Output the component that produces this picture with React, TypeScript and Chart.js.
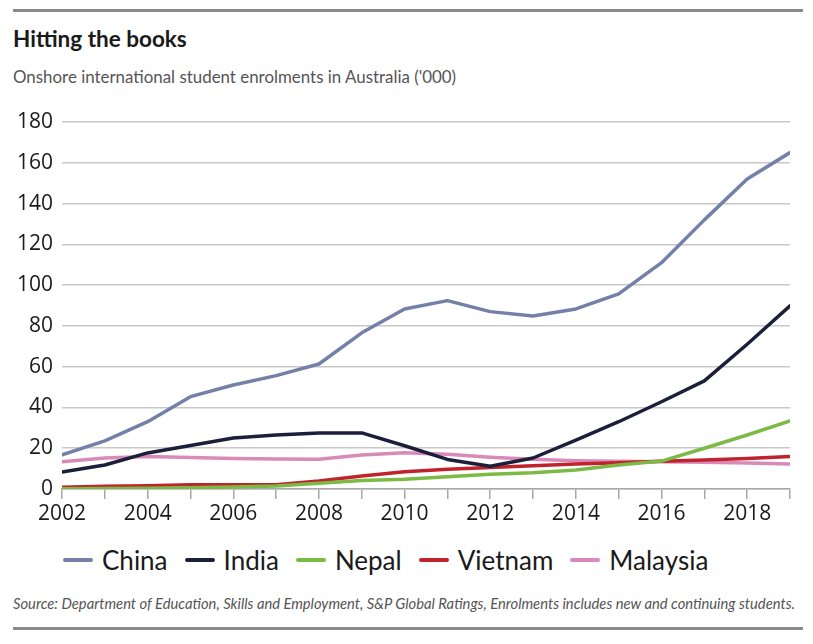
import React, { useEffect, useRef } from "react";
import { Chart, registerables } from "chart.js";

Chart.register(...registerables);

const years = [2002, 2003, 2004, 2005, 2006, 2007, 2008, 2009, 2010, 2011, 2012, 2013, 2014, 2015, 2016, 2017, 2018, 2019];
const china = [16.7, 23.6, 33, 45.3, 51, 55.6, 61.3, 76.6, 88.3, 92.4, 87, 84.9, 88.3, 95.7, 111, 132, 152, 165];
const india = [8.3, 11.8, 17.7, 21.3, 25, 26.5, 27.5, 27.5, 21.2, 14.5, 11.2, 15.2, 24, 33, 42.8, 53, 71, 89.8];
const nepal = [0.1, 0.3, 0.4, 0.6, 1, 1.5, 2.8, 4.2, 4.8, 6, 7.2, 8, 9.3, 11.8, 13.7, 20, 26.5, 33.4];
const vietnam = [0.8, 1.3, 1.6, 2.1, 2.1, 2.1, 3.9, 6.4, 8.5, 9.7, 10.6, 11.4, 12.3, 12.9, 13.6, 14.2, 15, 15.9];
const malaysia = [13.4, 15.2, 15.9, 15.4, 15, 14.7, 14.6, 16.7, 17.8, 17, 15.6, 14.6, 13.9, 13.6, 13.4, 13.1, 12.8, 12.3];
const yTicks = [0, 20, 40, 60, 80, 100, 120, 140, 160, 180];

const seriesNames = ["China", "India", "Nepal", "Vietnam", "Malaysia"];
const seriesValues = [china, india, nepal, vietnam, malaysia];
const seriesColors = ["#7580a8", "#1c1f3b", "#7bbb45", "#c0232c", "#d98ab8"];

export default function App() {
  const ref = useRef<HTMLCanvasElement | null>(null);

  useEffect(() => {
    if (!ref.current) return;
    const chart = new Chart(ref.current, {
      type: "line",
      data: {
        datasets: seriesNames.map((name, i) => ({
          label: name,
          data: years.map((y, j) => ({ x: y, y: seriesValues[i][j] })),
          borderColor: seriesColors[i],
          backgroundColor: seriesColors[i],
          borderWidth: 3.5,
          pointRadius: 0,
          tension: 0,
          borderJoinStyle: "round" as const,
          borderCapStyle: "round" as const,
          fill: false,
          order: i,
        })),
      },
      options: {
        responsive: false,
        animation: false,
        layout: { padding: { top: 22, right: 23, left: 0, bottom: 0 } },
        plugins: { legend: { display: false }, tooltip: { enabled: false }, title: { display: false } },
        scales: {
          x: {
            type: "linear",
            min: years[0],
            max: years[years.length - 1],
            afterFit: (s: any) => {
              s.height = 40;
            },
            afterBuildTicks: (s: any) => {
              s.ticks = years.map((v) => ({ value: v }));
            },
            ticks: {
              autoSkip: false,
              maxRotation: 0,
              padding: 2,
              color: "#1a1a1a",
              font: { family: "'Open Sans'", size: 21 },
              callback: (v: any) => (Number(v) % 2 === 0 ? String(v) : ""),
            },
            grid: {
              display: true,
              drawOnChartArea: false,
              drawTicks: true,
              tickLength: 10,
              color: "#a8a8a8",
              lineWidth: 1.5,
            },
            border: { display: true, color: "#a8a8a8", width: 1.5 },
          },
          y: {
            min: 0,
            max: 180,
            afterFit: (s: any) => {
              s.width = 62;
            },
            afterBuildTicks: (s: any) => {
              s.ticks = yTicks.map((v) => ({ value: v }));
            },
            ticks: {
              padding: 9,
              color: "#1a1a1a",
              font: { family: "'Open Sans'", size: 21 },
              callback: (v: any) => String(v),
            },
            grid: { color: "#c8c8c8", lineWidth: 1.5, drawTicks: false },
            border: { display: false },
          },
        },
      },
    });
    return () => chart.destroy();
  }, []);

  const abs: React.CSSProperties = { position: "absolute" };

  return (
    <div>
      <div style={{ ...abs, left: 13, top: 9, width: 790, height: 3, background: "#8a8a8a" }} />
      <div
        style={{
          ...abs,
          left: 13,
          top: 28,
          fontFamily: "Lato",
          fontWeight: 700,
          fontSize: 22.5,
          lineHeight: "22px",
          color: "#1a1a1a",
          whiteSpace: "nowrap",
        }}
      >
        Hitting the books
      </div>
      <div
        style={{
          ...abs,
          left: 13,
          top: 68,
          fontFamily: "Lato",
          fontSize: 16.9,
          lineHeight: "17px",
          color: "#555",
          whiteSpace: "nowrap",
        }}
      >
        Onshore international student enrolments in Australia ('000)
      </div>
      <canvas ref={ref} width={813} height={429} style={{ ...abs, left: 0, top: 100, width: 813, height: 429 }} />
      <div
        style={{
          ...abs,
          left: 63,
          top: 546,
          display: "flex",
          alignItems: "center",
          fontFamily: "Lato",
          fontSize: 26,
          lineHeight: "28px",
          color: "#1a1a1a",
          whiteSpace: "nowrap",
        }}
      >
        {seriesNames.map((n, i) => (
          <div key={n} style={{ display: "flex", alignItems: "center", marginRight: 17 }}>
            <div style={{ width: 30, height: 4, borderRadius: 2, background: seriesColors[i], marginRight: 9 }} />
            <span>{n}</span>
          </div>
        ))}
      </div>
      <div
        style={{
          ...abs,
          left: 13,
          top: 596,
          fontFamily: "Lato",
          fontStyle: "italic",
          fontSize: 14.75,
          lineHeight: "15px",
          color: "#555",
          whiteSpace: "nowrap",
        }}
      >
        Source: Department of Education, Skills and Employment, S&amp;P Global Ratings, Enrolments includes new and continuing students.
      </div>
      <div style={{ ...abs, left: 13, top: 627, width: 790, height: 3, background: "#8a8a8a" }} />
    </div>
  );
}
